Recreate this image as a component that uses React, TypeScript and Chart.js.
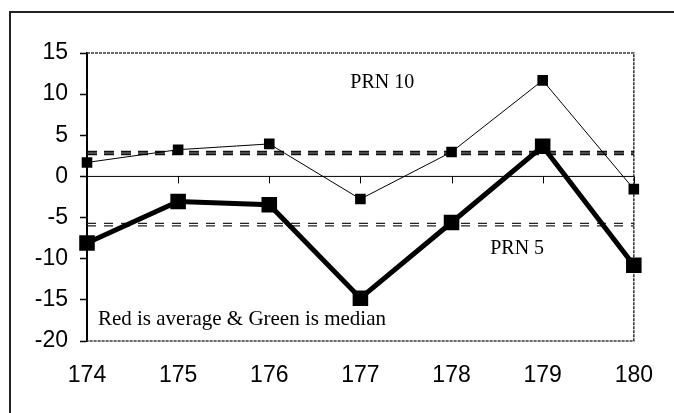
import React, { useEffect, useRef } from 'react';
import { Chart, registerables } from 'chart.js';

Chart.register(...registerables);

const categories = ['174', '175', '176', '177', '178', '179', '180'];
const prn10 = [1.7, 3.25, 3.95, -2.75, 2.97, 11.67, -1.54];
const prn5 = [-8.1, -3.05, -3.45, -14.8, -5.6, 3.66, -10.8];
const prn10Average = 2.7;
const prn10Median = 3.0;
const prn5Average = -6.0;
const prn5Median = -5.7;
const yMin = -20;
const yMax = 15;
const yStep = 5;

const labelPrn10 = 'PRN 10';
const labelPrn5 = 'PRN 5';
const noteText = 'Red is average & Green is median';

const decorPlugin = {
  id: 'decor',
  beforeDatasetsDraw(chart: any) {
    const { ctx, chartArea: a, scales } = chart;
    const x = scales.x;
    const y = scales.y;
    ctx.save();
    // dotted plot frame (top, right, bottom)
    ctx.strokeStyle = '#3a3a3a';
    ctx.lineWidth = 1.6;
    ctx.setLineDash([3, 1]);
    ctx.beginPath();
    ctx.moveTo(a.left, a.top);
    ctx.lineTo(a.right, a.top);
    ctx.lineTo(a.right, a.bottom);
    ctx.lineTo(a.left, a.bottom);
    ctx.stroke();
    ctx.setLineDash([]);
    // zero axis with tick marks
    const y0 = y.getPixelForValue(0);
    ctx.strokeStyle = '#000';
    ctx.lineWidth = 1;
    ctx.beginPath();
    ctx.moveTo(a.left, y0);
    ctx.lineTo(a.right, y0);
    categories.forEach((_, i) => {
      const px = Math.round(x.getPixelForValue(i)) + 0.5;
      ctx.moveTo(px, y0);
      ctx.lineTo(px, y0 + 7);
    });
    ctx.stroke();
    ctx.restore();
  },
  afterDatasetsDraw(chart: any) {
    const { ctx, scales } = chart;
    const x = scales.x;
    const y = scales.y;
    ctx.save();
    ctx.fillStyle = '#000';
    ctx.textBaseline = 'middle';
    ctx.font = '20px "Liberation Serif", "Times New Roman", serif';
    ctx.textAlign = 'center';
    ctx.fillText(labelPrn10, x.getPixelForValue(3.24), y.getPixelForValue(11.4));
    ctx.fillText(labelPrn5, x.getPixelForValue(4.72), y.getPixelForValue(-8.8));
    ctx.textAlign = 'left';
    ctx.font = '21px "Liberation Serif", "Times New Roman", serif';
    ctx.fillText(noteText, x.getPixelForValue(0.12), y.getPixelForValue(-17.4));
    ctx.restore();
  },
};

export default function App() {
  const canvasRef = useRef<HTMLCanvasElement | null>(null);

  useEffect(() => {
    const canvas = canvasRef.current;
    if (!canvas) return;
    const flat = (v: number) => categories.map(() => v);
    const chart = new Chart(canvas, {
      type: 'line',
      data: {
        labels: categories,
        datasets: [
          {
            label: 'PRN 5',
            data: prn5,
            borderColor: '#000',
            backgroundColor: '#000',
            borderWidth: 5,
            pointStyle: 'rect',
            pointRadius: 11,
            pointBorderWidth: 0,
            tension: 0,
          },
          {
            label: 'PRN 10',
            data: prn10,
            borderColor: '#000',
            backgroundColor: '#000',
            borderWidth: 1,
            pointStyle: 'rect',
            pointRadius: 7.5,
            pointBorderWidth: 0,
            tension: 0,
          },
          {
            label: 'PRN 10 average',
            data: flat(prn10Average),
            borderColor: '#111',
            borderWidth: 2,
            borderDash: [10, 7],
            pointRadius: 0,
          },
          {
            label: 'PRN 10 median',
            data: flat(prn10Median),
            borderColor: '#111',
            borderWidth: 2,
            borderDash: [10, 7],
            pointRadius: 0,
          },
          {
            label: 'PRN 5 average',
            data: flat(prn5Average),
            borderColor: '#222',
            borderWidth: 1.3,
            borderDash: [9, 8],
            pointRadius: 0,
          },
          {
            label: 'PRN 5 median',
            data: flat(prn5Median),
            borderColor: '#222',
            borderWidth: 1.3,
            borderDash: [9, 8],
            pointRadius: 0,
          },
        ],
      },
      options: {
        animation: false,
        responsive: false,
        maintainAspectRatio: false,
        layout: { padding: { left: 0, top: 53, right: 31, bottom: 0 } },
        plugins: {
          legend: { display: false },
          tooltip: { enabled: false },
        },
        scales: {
          x: {
            type: 'category',
            offset: false,
            afterFit: (s: any) => {
              s.height = 72;
            },
            grid: { display: false, drawTicks: false },
            border: { display: false },
            ticks: {
              color: '#000',
              padding: 21,
              maxRotation: 0,
              font: { family: '"Liberation Sans", Arial, sans-serif', size: 23 },
            },
          },
          y: {
            min: yMin,
            max: yMax,
            afterFit: (s: any) => {
              s.width = 87;
            },
            grid: {
              drawOnChartArea: false,
              drawTicks: true,
              tickLength: 7,
              tickColor: '#000',
              tickWidth: 1.5,
            },
            border: { display: true, color: '#000', width: 2 },
            ticks: {
              stepSize: yStep,
              color: '#000',
              padding: 12,
              font: { family: '"Liberation Sans", Arial, sans-serif', size: 23 },
            },
          },
        },
      },
      plugins: [decorPlugin],
    });
    return () => chart.destroy();
  }, []);

  return (
    <div style={{ position: 'absolute', left: 0, top: 0, width: 674, height: 413, background: '#fff', overflow: 'hidden' }}>
      <div
        style={{
          position: 'absolute',
          left: 9,
          top: 11,
          width: 674 - 9,
          height: 413 - 11,
          borderTop: '2px solid #222',
          borderLeft: '2px solid #222',
          boxSizing: 'border-box',
        }}
      />
      <canvas ref={canvasRef} width={674} height={413} style={{ position: 'absolute', left: 0, top: 0, width: 674, height: 413 }} />
    </div>
  );
}
